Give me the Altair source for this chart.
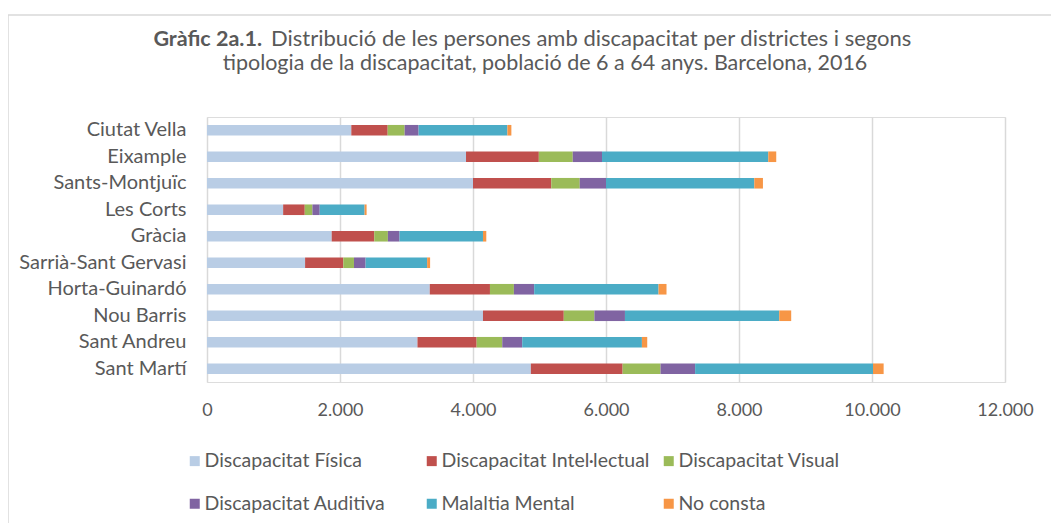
import altair as alt
import pandas as pd

districts = ["Ciutat Vella", "Eixample", "Sants-Montjuïc", "Les Corts", "Gràcia",
             "Sarrià-Sant Gervasi", "Horta-Guinardó", "Nou Barris", "Sant Andreu", "Sant Martí"]
categories = ["Discapacitat Física", "Discapacitat Intel·lectual", "Discapacitat Visual",
              "Discapacitat Auditiva", "Malaltia Mental", "No consta"]
fisica = [2170, 3895, 4000, 1145, 1875, 1475, 3350, 4150, 3165, 4870]
intel = [547, 1095, 1177, 325, 640, 575, 905, 1215, 890, 1380]
visual = [255, 510, 428, 115, 205, 160, 360, 460, 385, 570]
auditiva = [210, 440, 395, 110, 175, 175, 305, 460, 300, 520]
mental = [1335, 2500, 2230, 675, 1255, 925, 1870, 2320, 1800, 2675]
no_consta = [60, 120, 130, 30, 50, 45, 120, 180, 80, 160]
colors = ["#B9CDE5", "#C0504D", "#9BBB59", "#8064A2", "#4BACC6", "#F79646"]
x_ticks = [0, 2000, 4000, 6000, 8000, 10000, 12000]
title_bold = "Gràfic 2a.1."
title_line1 = "Distribució de les persones amb discapacitat per districtes i segons"
title_line2 = "tipologia de la discapacitat, població de 6 a 64 anys. Barcelona, 2016"

FONT = "Lato"
GREY = "#595959"

series = [fisica, intel, visual, auditiva, mental, no_consta]
rows = []
for ci, (cat, vals) in enumerate(zip(categories, series)):
    for d, v in zip(districts, vals):
        rows.append({"districte": d, "tipus": cat, "valor": v, "ordre": ci})
df = pd.DataFrame(rows)

bars = alt.Chart(df).mark_bar().encode(
    y=alt.Y("districte:N", sort=districts, title=None,
            scale=alt.Scale(paddingInner=0.6, paddingOuter=0.3),
            axis=alt.Axis(domain=False, ticks=False, grid=False, labelPadding=21,
                          labelFontSize=20, labelColor=GREY, labelFont=FONT)),
    x=alt.X("sum(valor):Q", title=None, stack="zero",
            scale=alt.Scale(domain=[0, 12000], nice=False),
            axis=alt.Axis(values=x_ticks, domain=False, ticks=False, grid=True,
                          gridColor="#d9d9d9", gridWidth=1.5, labelPadding=19,
                          labelFlush=False,
                          labelFontSize=18, labelColor=GREY, labelFont=FONT,
                          labelExpr="replace(format(datum.value, ','), ',', '.')")),
    color=alt.Color("tipus:N", sort=categories,
                    scale=alt.Scale(domain=categories, range=colors),
                    legend=alt.Legend(title=None, orient="none", legendX=-22, legendY=334,
                                      direction="horizontal",
                                      columns=3, gridAlign="all", columnPadding=9,
                                      rowPadding=22, symbolType="square", symbolSize=100,
                                      symbolStrokeWidth=0, labelOffset=0, labelFontSize=19.5,
                                      labelColor=GREY, labelFont=FONT, padding=0,
                                      labelLimit=400)),
    order=alt.Order("ordre:Q", sort="ascending"),
)

tdf = pd.DataFrame([{"t": title_bold}])
t_bold = alt.Chart(tdf).mark_text(align="right", baseline="alphabetic", fontWeight="bold",
                                  fontSize=21.5, font=FONT, color=GREY).encode(
    x=alt.value(55), y=alt.value(-71), text="t:N")
t1 = alt.Chart(pd.DataFrame([{"t": title_line1}])).mark_text(
    align="left", baseline="alphabetic", fontSize=22, font=FONT, color=GREY).encode(
    x=alt.value(64), y=alt.value(-71), text="t:N")
t2 = alt.Chart(pd.DataFrame([{"t": title_line2}])).mark_text(
    align="center", baseline="alphabetic", fontSize=21.5, font=FONT, color=GREY).encode(
    x=alt.value(338), y=alt.value(-47), text="t:N")

one = pd.DataFrame([{"a": 0}])
frame_left = alt.Chart(one).mark_rule(color="#d9d9d9", strokeWidth=1.5).encode(
    x=alt.value(-199), y=alt.value(-102), y2=alt.value(420))
frame_top = alt.Chart(one).mark_rule(color="#d9d9d9", strokeWidth=1.5).encode(
    x=alt.value(-199), x2=alt.value(860), y=alt.value(-102))

chart = alt.layer(frame_left, frame_top, bars, t_bold, t1, t2).properties(
    width=798, height=265,
    autosize=alt.AutoSizeParams(type="none"),
    padding={"left": 199, "top": 109, "right": 46, "bottom": 141},
).configure_view(stroke=None).configure(background="white")

chart.save("out.html", embed_options={"renderer": "svg", "actions": False})
